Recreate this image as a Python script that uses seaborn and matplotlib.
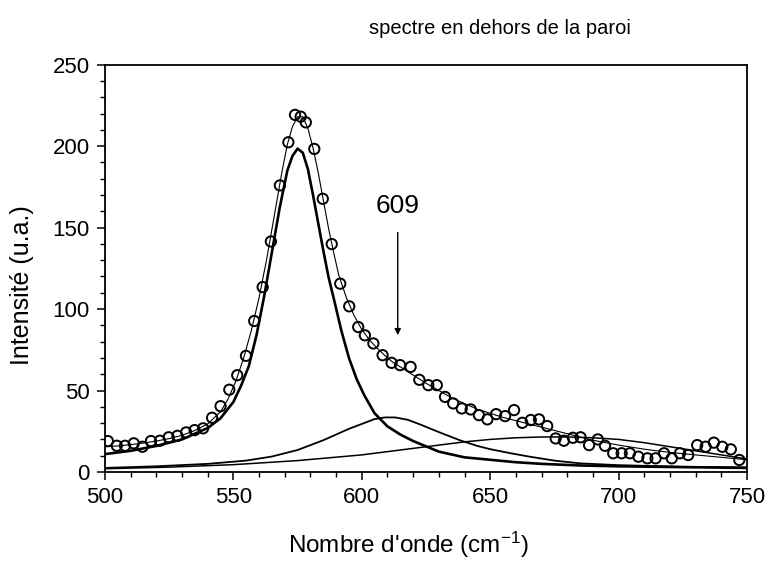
import numpy as np
import pandas as pd
import matplotlib
matplotlib.use("Agg")
import matplotlib.pyplot as plt
from matplotlib.ticker import MultipleLocator
import seaborn as sns

# ---- data ----
obs_x = [501.1, 504.6, 507.8, 511.2, 514.6, 517.9, 521.4, 524.8, 528.2, 531.6,
         534.9, 538.2, 541.7, 545.0, 548.4, 551.5, 554.9, 558.1, 561.4, 564.6,
         568.1, 571.4, 574.0, 576.2, 578.2, 581.5, 584.8, 588.3, 591.6, 595.1,
         598.6, 601.2, 604.5, 608.1, 611.6, 614.9, 619.0, 622.4, 625.9, 629.2,
         632.4, 635.6, 638.9, 642.4, 645.6, 648.9, 652.3, 655.8, 659.3, 662.5,
         665.8, 669.0, 672.2, 675.5, 678.7, 682.2, 685.2, 688.5, 691.9, 694.7,
         697.9, 701.2, 704.4, 707.7, 711.2, 714.4, 717.7, 720.7, 723.9, 727.1,
         730.6, 733.9, 737.1, 740.4, 743.7, 747.0]
obs_y = [19.0, 16.1, 16.1, 17.6, 15.5, 19.0, 19.2, 21.3, 22.2, 24.3,
         25.7, 26.8, 33.3, 40.4, 50.5, 59.4, 71.3, 92.7, 113.5, 141.5,
         175.9, 202.4, 219.2, 218.1, 214.6, 198.3, 167.7, 139.9, 115.6, 101.7,
         89.0, 83.9, 78.9, 71.7, 67.0, 65.6, 64.5, 56.6, 53.3, 53.3,
         46.1, 42.1, 39.0, 38.4, 34.9, 32.3, 35.5, 34.3, 38.0, 30.2,
         31.9, 32.3, 28.2, 20.6, 19.2, 21.0, 21.3, 16.5, 20.0, 16.1,
         11.5, 11.5, 11.5, 9.4, 8.4, 8.4, 11.5, 8.4, 11.5, 10.4,
         16.5, 15.5, 18.0, 15.5, 13.9, 7.4]

fit_x = [500, 505, 510, 515, 520, 525, 530, 535, 540, 545, 548, 551, 554, 557,
         560, 563, 566, 569, 571, 573, 575, 577, 579, 581, 583, 585, 587, 589,
         591, 594, 597, 600, 603, 606, 609, 612, 616, 620, 625, 630, 635, 640,
         645, 650, 655, 660, 665, 670, 675, 680, 685, 690, 700, 710, 720, 730,
         740, 750]
fit_y = [15.5, 16, 16.8, 17.8, 19, 20.5, 22.5, 25.5, 29.5, 37, 45, 56, 70, 87,
         107, 131, 158, 185, 201, 212, 218, 218, 211, 199, 184, 167, 150, 135,
         121, 107, 96, 87.5, 81, 76, 71.5, 67.5, 63.5, 59.5, 54.5, 50, 45.5, 42,
         38.5, 36, 33.5, 31.5, 29.5, 27.5, 25.5, 23.5, 21.5, 19.5, 16.5, 14, 12, 10.5,
         9, 7.5]

main_x = [500, 510, 520, 530, 540, 545, 550, 553, 556, 559, 562, 565, 568, 571,
          573, 575, 577, 579, 581, 583, 585, 587, 589, 592, 595, 598, 601, 605,
          610, 615, 620, 630, 640, 650, 660, 670, 685, 700, 725, 750]
main_y = [11, 13, 16, 20, 27, 33, 43, 53, 65, 84, 108, 135, 162, 185,
          194, 198.5, 196, 186, 170, 153, 136, 120, 107, 87, 70, 57, 47, 36,
          28, 23, 19, 12.5, 9, 7.5, 6, 5, 4, 3.5, 3, 2.5]

c609_x = [500, 520, 540, 555, 565, 575, 585, 595, 600, 605, 609, 613, 618, 623,
          630, 638, 645, 650, 658, 665, 675, 685, 700, 725, 750]
c609_y = [2.5, 3.5, 5, 7, 9.5, 13.5, 19.5, 26.5, 29.5, 32.5, 33.5, 33.5, 32, 29,
          24.5, 19.6, 16, 14, 11.5, 9.5, 7, 5.3, 4.2, 3.2, 2.8]

c665_x = [500, 525, 550, 575, 600, 620, 640, 650, 660, 670, 680, 690, 700, 710,
          720, 730, 740, 750]
c665_y = [2, 3, 4.5, 7, 10.5, 14.5, 18.5, 20, 21, 21.5, 21.5, 21, 20, 18,
          15.5, 13, 10.5, 8]

title_text = "spectre en dehors de la paroi"
peak_label = "609"
peak_pos = 614
xlabel = "Nombre d'onde (cm$^{-1}$)"
ylabel = "Intensité (u.a.)"

# ---- plotting ----
sns.set_theme(style="ticks")
plt.rcParams["font.family"] = ["Liberation Sans", "DejaVu Sans"]
plt.rcParams["mathtext.fontset"] = "custom"
plt.rcParams["mathtext.rm"] = "Liberation Sans"
plt.rcParams["mathtext.it"] = "Liberation Sans"

fig = plt.figure(figsize=(7.67, 5.62), dpi=100)
ax = fig.add_axes([105 / 767, 1 - 472 / 562, (747 - 105) / 767, (472 - 64.7) / 562])

sns.lineplot(x=c665_x, y=c665_y, ax=ax, color="black", lw=1.1, estimator=None, sort=False)
sns.lineplot(x=c609_x, y=c609_y, ax=ax, color="black", lw=1.3, estimator=None, sort=False)
sns.lineplot(x=main_x, y=main_y, ax=ax, color="black", lw=1.9, estimator=None, sort=False)
sns.lineplot(x=fit_x, y=fit_y, ax=ax, color="black", lw=0.8, estimator=None, sort=False)
sns.scatterplot(x=obs_x, y=obs_y, ax=ax, marker="o", s=55, facecolors="none",
                edgecolor="black", linewidth=1.4, zorder=5)

ax.set_xlim(500, 750)
ax.set_ylim(0, 250)
ax.xaxis.set_major_locator(MultipleLocator(50))
ax.xaxis.set_minor_locator(MultipleLocator(10))
ax.yaxis.set_major_locator(MultipleLocator(50))
ax.yaxis.set_minor_locator(MultipleLocator(10))
ax.tick_params(which="major", direction="out", length=6, width=1.1, labelsize=16,
               color="black", labelcolor="black", pad=5)
ax.tick_params(which="minor", direction="out", length=3.5, width=1.0, color="black")
for s in ax.spines.values():
    s.set_color("black")
    s.set_linewidth(1.3)

ax.set_xlabel(xlabel, fontsize=17.5, color="black")
ax.set_ylabel(ylabel, fontsize=18, color="black")
ax.xaxis.set_label_coords(0.472, -0.143)
ax.yaxis.set_label_coords(-0.11, 0.46)

ax.text(peak_pos, 163.5, peak_label, fontsize=19, ha="center", va="center", color="black")
ax.annotate("", xy=(peak_pos, 84), xytext=(peak_pos, 147),
            arrowprops=dict(arrowstyle="-|>", color="black", lw=1.0,
                            mutation_scale=9, shrinkA=0, shrinkB=0))

fig.text(500 / 767, 1 - 28 / 562, title_text, fontsize=14.5, ha="center", va="center",
         color="black")

fig.savefig("out.png", dpi=100)
